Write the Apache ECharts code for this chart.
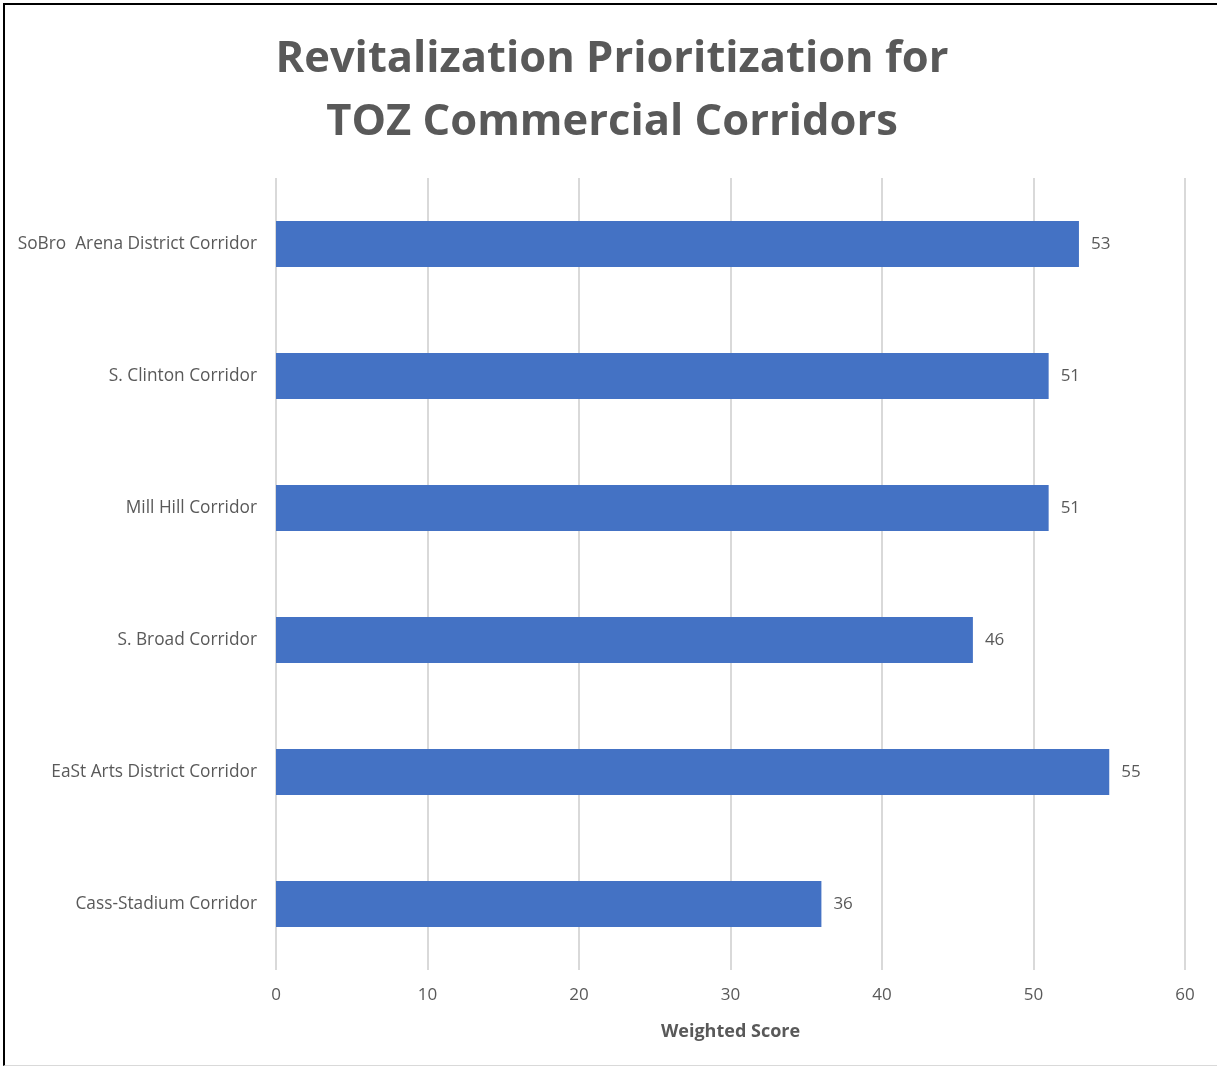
<!DOCTYPE html>
<html>
<head>
<meta charset="utf-8">
<script src="https://cdn.jsdelivr.net/npm/echarts@6/dist/echarts.min.js"></script>
<style>
html,body{margin:0;padding:0;background:#fff;}
#frame{position:absolute;left:3px;top:3px;width:1214px;height:1063px;border-top:2px solid #000;border-left:2px solid #000;border-bottom:1px solid #d9d9d9;box-sizing:border-box;}
#chart{position:absolute;left:0;top:0;width:1217px;height:1069px;}
</style>
</head>
<body>
<div id="frame"></div>
<div id="chart"></div>
<script>
const categories = ["Cass-Stadium Corridor", "EaSt Arts District Corridor", "S. Broad Corridor", "Mill Hill Corridor", "S. Clinton Corridor", "SoBro  Arena District Corridor"];
const scores = [36, 55, 46, 51, 51, 53];
const xTicks = [0, 10, 20, 30, 40, 50, 60];

const chart = echarts.init(document.getElementById('chart'), null, {renderer: 'canvas'});
const fontFam = '"Open Sans", "Noto Sans", sans-serif';
chart.setOption({
  backgroundColor: 'transparent',
  animation: false,
  title: {
    text: 'Revitalization Prioritization for\nTOZ Commercial Corridors',
    left: 607, top: 23, textAlign: 'center',
    textStyle: {fontFamily: fontFam, fontWeight: 'bold', fontSize: 43.5, color: '#595959', lineHeight: 63}
  },
  grid: {left: 276, right: 32, top: 178, bottom: 99, containLabel: false},
  xAxis: {
    type: 'value', min: xTicks[0], max: xTicks[xTicks.length - 1], interval: 10,
    name: 'Weighted Score', nameLocation: 'middle', nameGap: 53,
    nameTextStyle: {fontFamily: fontFam, fontWeight: 'bold', fontSize: 18, color: '#595959'},
    axisLine: {show: false}, axisTick: {show: false},
    axisLabel: {fontFamily: fontFam, fontSize: 17, color: '#595959', margin: 17},
    splitLine: {show: true, lineStyle: {color: '#d9d9d9', width: 2}}
  },
  yAxis: {
    type: 'category', data: categories,
    axisLine: {show: false}, axisTick: {show: false},
    axisLabel: {fontFamily: fontFam, fontSize: 17.3, color: '#595959', margin: 19}
  },
  series: [{
    type: 'bar', data: scores, barWidth: 46,
    itemStyle: {color: '#4472C4'},
    label: {show: true, position: 'right', distance: 12, fontFamily: fontFam, fontSize: 17, color: '#595959'}
  }]
});
</script>
</body>
</html>
